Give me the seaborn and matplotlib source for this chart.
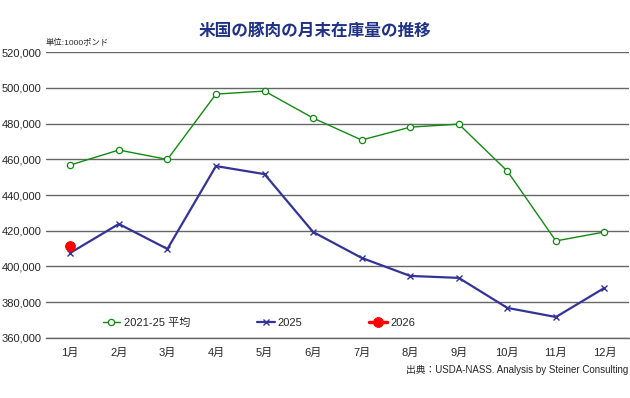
import pandas as pd
import numpy as np
import matplotlib.pyplot as plt
import seaborn as sns

# data (1000 lbs)
months = ["1月", "2月", "3月", "4月", "5月", "6月", "7月", "8月", "9月", "10月", "11月", "12月"]
avg_2125 = [456800, 465200, 459900, 496500, 498200, 483100, 470800, 478000, 479700, 453400, 414300, 419300]
y2025 = [407600, 423800, 409800, 456200, 451700, 419300, 404800, 394700, 393600, 376800, 371700, 388000]
months_2026 = ["1月"]
y2026 = [411500]

sns.set_theme(style="white")
plt.rcParams["font.family"] = ["Liberation Sans", "Noto Sans CJK JP", "DejaVu Sans"]

df_avg = pd.DataFrame({"month": months, "value": avg_2125})
df_25 = pd.DataFrame({"month": months, "value": y2025})
df_26 = pd.DataFrame({"month": months_2026, "value": y2026})

fig = plt.figure(figsize=(6.3, 3.98), dpi=100)
ax = fig.add_axes([0.073, 0.151, 0.925, 0.718])

#horizontal grid
for v in range(360000, 520001, 20000):
    ax.axhline(v, color="#666666", lw=1.0, zorder=0)

sns.lineplot(data=df_avg, x="month", y="value", ax=ax, color="#108a10", lw=1.0,
             marker="o", markersize=4.5, markerfacecolor="white", markeredgecolor="#108a10",
             markeredgewidth=0.9, label="2021-25 平均", sort=False)
sns.lineplot(data=df_25, x="month", y="value", ax=ax, color="#333399", lw=1.6,
             marker="x", markersize=5, markeredgecolor="#333399", markeredgewidth=1.0,
             label="2025", sort=False)
sns.lineplot(data=df_26, x="month", y="value", ax=ax, color="#ff0000", lw=2.5,
             marker="o", markersize=7, markeredgecolor="#ff0000",
             label="2026", sort=False)

ax.set_xlim(-0.5, 11.5)
ax.set_ylim(360000, 520000)
ax.set_yticks(range(360000, 520001, 20000))
ax.set_yticklabels([f"{v:,}" for v in range(360000, 520001, 20000)], fontsize=8)
ax.set_xticks(range(12))
ax.set_xticklabels(months, fontsize=8)
ax.set_xticks(np.arange(-0.5, 12, 1), minor=True)
ax.tick_params(axis="x", which="major", length=0, pad=7)
ax.tick_params(axis="x", which="minor", length=7, color="#666666", width=1, direction="out")
ax.tick_params(axis="y", length=0, pad=3)
ax.set_xlabel("")
ax.set_ylabel("")
for s in ["top", "right", "left"]:
    ax.spines[s].set_visible(False)
ax.spines["bottom"].set_color("#666666")
ax.spines["bottom"].set_linewidth(1.0)

ax.legend(loc="lower left", bbox_to_anchor=(0.08, 0.0), ncol=3, frameon=False,
          fontsize=8, columnspacing=6.0, handlelength=1.6, handletextpad=0.3)

fig.text(0.5, 0.922, "米国の豚肉の月末在庫量の推移", ha="center", va="center",
         fontsize=12, fontweight="bold", color="#1f3288")
fig.text(0.073, 0.893, "単位:1000ポンド", ha="left", va="center", fontsize=6)
fig.text(0.998, 0.07, "出典：USDA-NASS. Analysis by Steiner Consulting", ha="right",
         va="center", fontsize=7)

plt.savefig("out.png", dpi=100)
